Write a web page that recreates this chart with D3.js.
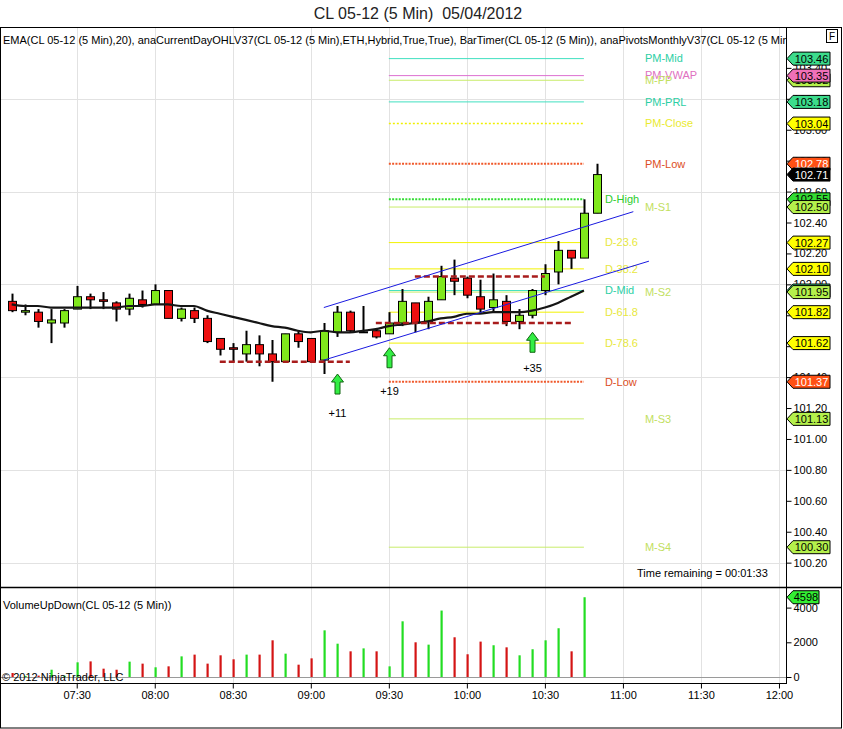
<!DOCTYPE html>
<html>
<head>
<meta charset="utf-8">
<script src="https://cdn.jsdelivr.net/npm/d3@7"></script>
<style>
  body { margin: 0; background: #fff; }
  svg text { font-family: "Liberation Sans", Arial, sans-serif; }
</style>
</head>
<body>
<div id="chart"></div>
<script>
var width = 843,
    height = 729;

// bars, 5 min
var times = ["07:05","07:10","07:15","07:20","07:25","07:30","07:35","07:40","07:45","07:50",
             "07:55","08:00","08:05","08:10","08:15","08:20","08:25","08:30","08:35","08:40",
             "08:45","08:50","08:55","09:00","09:05","09:10","09:15","09:20","09:25","09:30",
             "09:35","09:40","09:45","09:50","09:55","10:00","10:05","10:10","10:15","10:20",
             "10:25","10:30","10:35","10:40","10:45","10:50"];
var opens  = [101.89,101.82,101.82,101.75,101.75,101.84,101.92,101.90,101.88,101.84,
              101.90,101.87,101.96,101.78,101.83,101.78,101.65,101.59,101.55,101.61,
              101.55,101.50,101.68,101.65,101.51,101.69,101.82,101.69,101.70,101.68,
              101.75,101.88,101.76,101.90,102.04,102.04,101.92,101.85,101.89,101.76,
              101.80,101.96,102.08,102.22,102.17,102.46];
var highs  = [101.94,101.87,101.84,101.84,101.84,101.99,101.94,101.95,101.89,101.94,
              101.96,102.00,101.96,101.85,101.85,101.80,101.65,101.62,101.70,101.67,
              101.64,101.68,101.70,101.65,101.75,101.86,101.83,101.86,101.71,101.82,
              101.97,101.88,101.92,102.12,102.16,102.05,102.03,102.07,101.93,101.84,
              101.97,102.13,102.28,102.22,102.55,102.78];
var lows   = [101.82,101.80,101.72,101.62,101.72,101.84,101.84,101.84,101.76,101.80,
              101.85,101.87,101.78,101.76,101.75,101.62,101.54,101.50,101.50,101.47,
              101.37,101.50,101.59,101.50,101.42,101.66,101.69,101.69,101.65,101.68,
              101.73,101.69,101.71,101.90,101.93,101.91,101.81,101.82,101.73,101.71,
              101.78,101.93,102.00,102.10,102.17,102.46];
var closes = [101.83,101.83,101.76,101.77,101.83,101.92,101.90,101.89,101.84,101.91,
              101.87,101.96,101.78,101.84,101.78,101.63,101.58,101.58,101.61,101.55,
              101.50,101.68,101.63,101.50,101.70,101.82,101.70,101.69,101.66,101.75,
              101.89,101.75,101.89,102.05,102.02,101.93,101.84,101.90,101.76,101.80,
              101.96,102.07,102.22,102.17,102.46,102.71];
// volume and EMA(20) drawn up to 10:45
var volumes = [230,60,80,420,70,846,900,480,420,885,
               770,560,615,1190,1290,770,1250,1020,1290,1290,
               2115,1345,710,1075,2690,1920,1480,1650,1480,615,
               3210,2000,1865,3830,2290,1310,2040,1830,1710,1250,
               1600,2115,2810,1480,4598];
var emaValues = [101.87,101.86,101.86,101.85,101.85,101.85,101.85,101.85,101.85,101.86,
                 101.86,101.87,101.87,101.86,101.86,101.83,101.81,101.79,101.77,101.75,
                 101.73,101.72,101.70,101.69,101.70,101.69,101.69,101.70,101.71,101.73,
                 101.74,101.75,101.76,101.78,101.79,101.81,101.81,101.82,101.82,101.82,
                 101.83,101.85,101.88,101.92,101.96];
var lastPrice = 102.71;

// pivot / day levels
var levelNames  = ["PM-Mid","PM-VWAP","M-PP","PM-PRL","PM-Close","PM-Low","D-High","M-S1","D-23.6",
                   "D-38.2","D-Mid","M-S2","D-61.8","D-78.6","D-Low","M-S3","M-S4"];
var levelPrices = [103.46,103.35,103.32,103.18,103.04,102.78,102.55,102.50,102.27,
                   102.10,101.96,101.95,101.82,101.62,101.37,101.13,100.30];
var levelStart = "09:30",
    levelEnd = "10:45";

// drawn objects
var dashStarts = ["08:25","09:25","09:40"];
var dashEnds   = ["09:15","10:40","10:30"];
var dashPrices = [101.50,101.75,102.05];

var channelStarts      = ["09:05","09:05"];
var channelEnds        = ["11:04","11:10"];
var channelStartPrices = [101.85,101.51];
var channelEndPrices   = [102.47,102.15];

var arrowTimes       = ["09:10","09:30","10:25"];
var arrowPrices      = [101.42,101.59,101.69];
var arrowLabels      = ["+11","+19","+35"];
var arrowLabelPrices = [101.17,101.31,101.46];

// axes
var priceTicks = [100.2,100.4,100.6,100.8,101.0,101.2,101.4,101.6,101.8,102.0,
                  102.2,102.4,102.6,102.8,103.0,103.2,103.4];
var gridPrices = [100.2,100.8,101.4,102.0,102.6,103.2];
var timeTicks = ["07:30","08:00","08:30","09:00","09:30","10:00","10:30","11:00","11:30","12:00"];
var volumeTicks = [0,2000,4000];

// styles
var yellowD = {line:"#f2f200", text:"#e8e83c", tag:"#ffff00", dash:null, w:1, group:"D"};
var monthS  = {line:"#c8ec6a", text:"#c2e060", tag:"#b4f04c", dash:null, w:1, group:"M"};
var tealPM  = {line:"#40e0c0", text:"#2ccfa4", tag:"#3cdc8c", dash:null, w:1, group:"PM"};
var levelStyles = {
  "PM-Mid": tealPM,
  "PM-VWAP": {line:"#dd70d0", text:"#e070c0", tag:"#f070b8", dash:null, w:1, group:"PM"},
  "M-PP": monthS,
  "PM-PRL": tealPM,
  "PM-Close": {line:"#f0f000", text:"#eaea30", tag:"#ffff00", dash:"2,2", w:1.5, group:"PM"},
  "PM-Low": {line:"#f0582a", text:"#dc4e24", tag:"#ff5014", dash:"2,1.3", w:2, group:"PM", white:true},
  "D-High": {line:"#33dd33", text:"#2ccc2c", tag:"#33dd33", dash:"2,1.3", w:2, group:"D"},
  "M-S1": monthS,
  "D-23.6": yellowD,
  "D-38.2": yellowD,
  "D-Mid": {line:"#40e0c0", text:"#2ccfa4", tag:"#3cdc8c", dash:null, w:1, group:"D"},
  "M-S2": monthS,
  "D-61.8": yellowD,
  "D-78.6": yellowD,
  "D-Low": {line:"#f0582a", text:"#dc4e24", tag:"#ff5014", dash:"2,1.3", w:2, group:"D", white:true},
  "M-S3": monthS,
  "M-S4": monthS
};
var labelOffset = {D: 21, M: 61, PM: 61};
var upColor = "#80e81c", downColor = "#ee1111";
var volUp = "#22dd22", volDown = "#d41414";

var parseTime = d3.timeParse("%H:%M");
var parseSec = d3.timeParse("%H:%M:%S");

var plotRight = 786;
var x = d3.scaleTime()
    .domain([parseSec("07:00:30"), parseSec("12:02:42")])
    .range([0, plotRight]);
var y = d3.scaleLinear()
    .domain([100.049, 103.658])
    .range([586, 28]);
var yv = d3.scaleLinear()
    .domain([0, 5130])
    .range([677, 588]);

var svg = d3.select("#chart").append("svg")
    .attr("width", width)
    .attr("height", height);

var defs = svg.append("defs");
defs.append("clipPath").attr("id", "clipMain")
  .append("rect").attr("x", 0).attr("y", 28).attr("width", plotRight).attr("height", 559);
defs.append("clipPath").attr("id", "clipVol")
  .append("rect").attr("x", 0).attr("y", 588).attr("width", plotRight).attr("height", 95);

// title
svg.append("text")
    .attr("x", 418).attr("y", 19)
    .attr("text-anchor", "middle")
    .attr("font-size", 16)
    .attr("fill", "#222")
    .text("CL 05-12 (5 Min)\u00a0 05/04/2012");

var main = svg.append("g").attr("clip-path", "url(#clipMain)");
var vol = svg.append("g").attr("clip-path", "url(#clipVol)");

// grid
timeTicks.forEach(function(t) {
  var xx = Math.round(x(parseTime(t))) + 0.5;
  main.append("line").attr("x1", xx).attr("x2", xx).attr("y1", 28).attr("y2", 588)
      .attr("stroke", "#e2e2e2");
  vol.append("line").attr("x1", xx).attr("x2", xx).attr("y1", 588).attr("y2", 683)
      .attr("stroke", "#e2e2e2");
});
gridPrices.forEach(function(p) {
  var yy = Math.round(y(p)) + 0.5;
  main.append("line").attr("x1", 0).attr("x2", plotRight).attr("y1", yy).attr("y2", yy)
      .attr("stroke", "#e2e2e2");
});

// level lines
var xs = x(parseTime(levelStart)), xe = x(parseTime(levelEnd));
levelNames.forEach(function(name, i) {
  var st = levelStyles[name];
  var yy = y(levelPrices[i]);
  main.append("line")
      .attr("x1", xs).attr("x2", xe).attr("y1", yy).attr("y2", yy)
      .attr("stroke", st.line)
      .attr("stroke-width", st.w)
      .attr("stroke-dasharray", st.dash);
  main.append("text")
      .attr("x", xe + labelOffset[st.group])
      .attr("y", yy)
      .attr("dy", "0.35em")
      .attr("font-size", 11)
      .attr("fill", st.text)
      .text(name);
});

// candles
times.forEach(function(t, i) {
  var cx = Math.round(x(parseTime(t))) + 0.5;
  var o = opens[i], c = closes[i];
  main.append("line")
      .attr("x1", cx).attr("x2", cx)
      .attr("y1", y(highs[i])).attr("y2", y(lows[i]))
      .attr("stroke", "#000").attr("stroke-width", 2);
  if (o === c) {
    main.append("line")
        .attr("x1", cx - 4.5).attr("x2", cx + 4.5)
        .attr("y1", y(o)).attr("y2", y(o))
        .attr("stroke", "#000").attr("stroke-width", 2);
  } else {
    var top = y(Math.max(o, c)), bot = y(Math.min(o, c));
    main.append("rect")
        .attr("x", cx - 4).attr("y", top)
        .attr("width", 8).attr("height", Math.max(bot - top, 1.5))
        .attr("fill", c > o ? upColor : downColor)
        .attr("stroke", "#000").attr("stroke-width", 1);
  }
});

// EMA
var emaLine = d3.line()
    .x(function(d, i) { return x(parseTime(times[i])); })
    .y(function(d) { return y(d); })
    .curve(d3.curveMonotoneX);
main.append("path")
    .datum(emaValues)
    .attr("d", emaLine)
    .attr("fill", "none")
    .attr("stroke", "#151515")
    .attr("stroke-width", 2.2);

// dashed support/resistance
dashPrices.forEach(function(p, i) {
  main.append("line")
      .attr("x1", x(parseTime(dashStarts[i])))
      .attr("x2", x(parseTime(dashEnds[i])))
      .attr("y1", y(p)).attr("y2", y(p))
      .attr("stroke", "#a81c1c")
      .attr("stroke-width", 2.5)
      .attr("stroke-dasharray", "6,3");
});

// channel
channelStarts.forEach(function(t, i) {
  main.append("line")
      .attr("x1", x(parseTime(t))).attr("y1", y(channelStartPrices[i]))
      .attr("x2", x(parseTime(channelEnds[i]))).attr("y2", y(channelEndPrices[i]))
      .attr("stroke", "#1a1ae0")
      .attr("stroke-width", 1);
});

// signal arrows
arrowTimes.forEach(function(t, i) {
  var ax = Math.round(x(parseTime(t))) + 0.5, ay = y(arrowPrices[i]);
  var pts = [[ax, ay], [ax + 6, ay + 8], [ax + 2.5, ay + 8], [ax + 2.5, ay + 20],
             [ax - 2.5, ay + 20], [ax - 2.5, ay + 8], [ax - 6, ay + 8]];
  main.append("path")
      .attr("d", "M" + pts.join("L") + "Z")
      .attr("fill", "#33ee44")
      .attr("stroke", "#116611")
      .attr("stroke-width", 1);
  main.append("text")
      .attr("x", ax).attr("y", y(arrowLabelPrices[i]))
      .attr("dy", "0.35em")
      .attr("text-anchor", "middle")
      .attr("font-size", 11)
      .attr("fill", "#000")
      .text(arrowLabels[i]);
});

// volume
vol.append("line")
    .attr("x1", 0).attr("x2", plotRight)
    .attr("y1", yv(0) + 0.5).attr("y2", yv(0) + 0.5)
    .attr("stroke", "#9a9a9a");
volumes.forEach(function(v, i) {
  var cx = Math.round(x(parseTime(times[i])));
  vol.append("rect")
      .attr("x", cx - 0.5).attr("y", yv(v))
      .attr("width", 2.2).attr("height", yv(0) - yv(v))
      .attr("fill", closes[i] >= opens[i] ? volUp : volDown);
});

// texts inside panels
main.append("text")
    .attr("x", 3).attr("y", 44)
    .attr("font-size", 11)
    .attr("fill", "#000")
    .text("EMA(CL 05-12 (5 Min),20), anaCurrentDayOHLV37(CL 05-12 (5 Min),ETH,Hybrid,True,True), BarTimer(CL 05-12 (5 Min)), anaPivotsMonthlyV37(CL 05-12 (5 Min),True)");
main.append("text")
    .attr("x", 637).attr("y", 577)
    .attr("font-size", 11)
    .attr("fill", "#000")
    .text("Time remaining = 00:01:33");
vol.append("text")
    .attr("x", 3).attr("y", 609)
    .attr("font-size", 11)
    .attr("fill", "#000")
    .text("VolumeUpDown(CL 05-12 (5 Min))");
svg.append("text")
    .attr("x", 2).attr("y", 681)
    .attr("font-size", 11)
    .attr("fill", "#000")
    .text("\u00a9 2012 NinjaTrader, LLC");

// frames
svg.append("rect").attr("x", 0.5).attr("y", 27.5).attr("width", 841).attr("height", 700.5)
    .attr("fill", "none").attr("stroke", "#000");
svg.append("line").attr("x1", 0).attr("x2", 842).attr("y1", 587.5).attr("y2", 587.5)
    .attr("stroke", "#000").attr("stroke-width", 1.5);
svg.append("line").attr("x1", 0).attr("x2", plotRight + 0.5).attr("y1", 683.5).attr("y2", 683.5)
    .attr("stroke", "#000");
svg.append("line").attr("x1", plotRight + 0.5).attr("x2", plotRight + 0.5).attr("y1", 27).attr("y2", 684)
    .attr("stroke", "#000");

// F box
svg.append("rect").attr("x", 826.5).attr("y", 29.5).attr("width", 11).attr("height", 13)
    .attr("fill", "#fff").attr("stroke", "#000");
svg.append("text").attr("x", 832).attr("y", 40).attr("text-anchor", "middle")
    .attr("font-size", 10).text("F");

// axes
var priceAxis = d3.axisRight(y)
    .tickValues(priceTicks)
    .tickSize(5)
    .tickPadding(2)
    .tickFormat(d3.format(".2f"));
var gp = svg.append("g").attr("transform", "translate(" + (plotRight + 0.5) + ",0)").call(priceAxis);
gp.select(".domain").remove();
gp.selectAll("text").attr("font-size", 11).attr("fill", "#000").attr("font-family", "Liberation Sans, Arial, sans-serif");

var volAxis = d3.axisRight(yv)
    .tickValues(volumeTicks)
    .tickSize(5)
    .tickPadding(2)
    .tickFormat(d3.format("d"));
var gv = svg.append("g").attr("transform", "translate(" + (plotRight + 0.5) + ",0)").call(volAxis);
gv.select(".domain").remove();
gv.selectAll("text").attr("font-size", 11).attr("fill", "#000").attr("font-family", "Liberation Sans, Arial, sans-serif");

var timeAxis = d3.axisBottom(x)
    .tickValues(timeTicks.map(parseTime))
    .tickSize(5)
    .tickPadding(3)
    .tickFormat(d3.timeFormat("%H:%M"));
var gt = svg.append("g").attr("transform", "translate(0,683.5)").call(timeAxis);
gt.select(".domain").remove();
gt.selectAll("text").attr("font-size", 11).attr("fill", "#000").attr("font-family", "Liberation Sans, Arial, sans-serif");

// value tags on the right axis
function tag(yc, value, fill, textColor, w) {
  var x0 = plotRight + 1, hh = 6.5;
  svg.append("path")
      .attr("d", "M" + x0 + "," + yc + "L" + (x0 + 6) + "," + (yc - hh) + "L" + (x0 + w) + "," + (yc - hh) +
                 "L" + (x0 + w) + "," + (yc + hh) + "L" + (x0 + 6) + "," + (yc + hh) + "Z")
      .attr("fill", fill)
      .attr("stroke", "#000")
      .attr("stroke-width", 1);
  svg.append("text")
      .attr("x", x0 + 6 + (w - 6) / 2).attr("y", yc)
      .attr("dy", "0.36em")
      .attr("text-anchor", "middle")
      .attr("font-size", 11)
      .attr("fill", textColor)
      .text(value);
}
["D", "M", "PM"].forEach(function(g) {
  levelNames.forEach(function(name, i) {
    var st = levelStyles[name];
    if (st.group !== g) return;
    tag(y(levelPrices[i]), levelPrices[i].toFixed(2), st.tag, st.white ? "#fff" : "#000", 43);
  });
});
tag(y(lastPrice), lastPrice.toFixed(2), "#000", "#fff", 43);
tag(yv(volumes[volumes.length - 1]), String(volumes[volumes.length - 1]), "#33ee33", "#000", 32);
</script>
</body>
</html>
